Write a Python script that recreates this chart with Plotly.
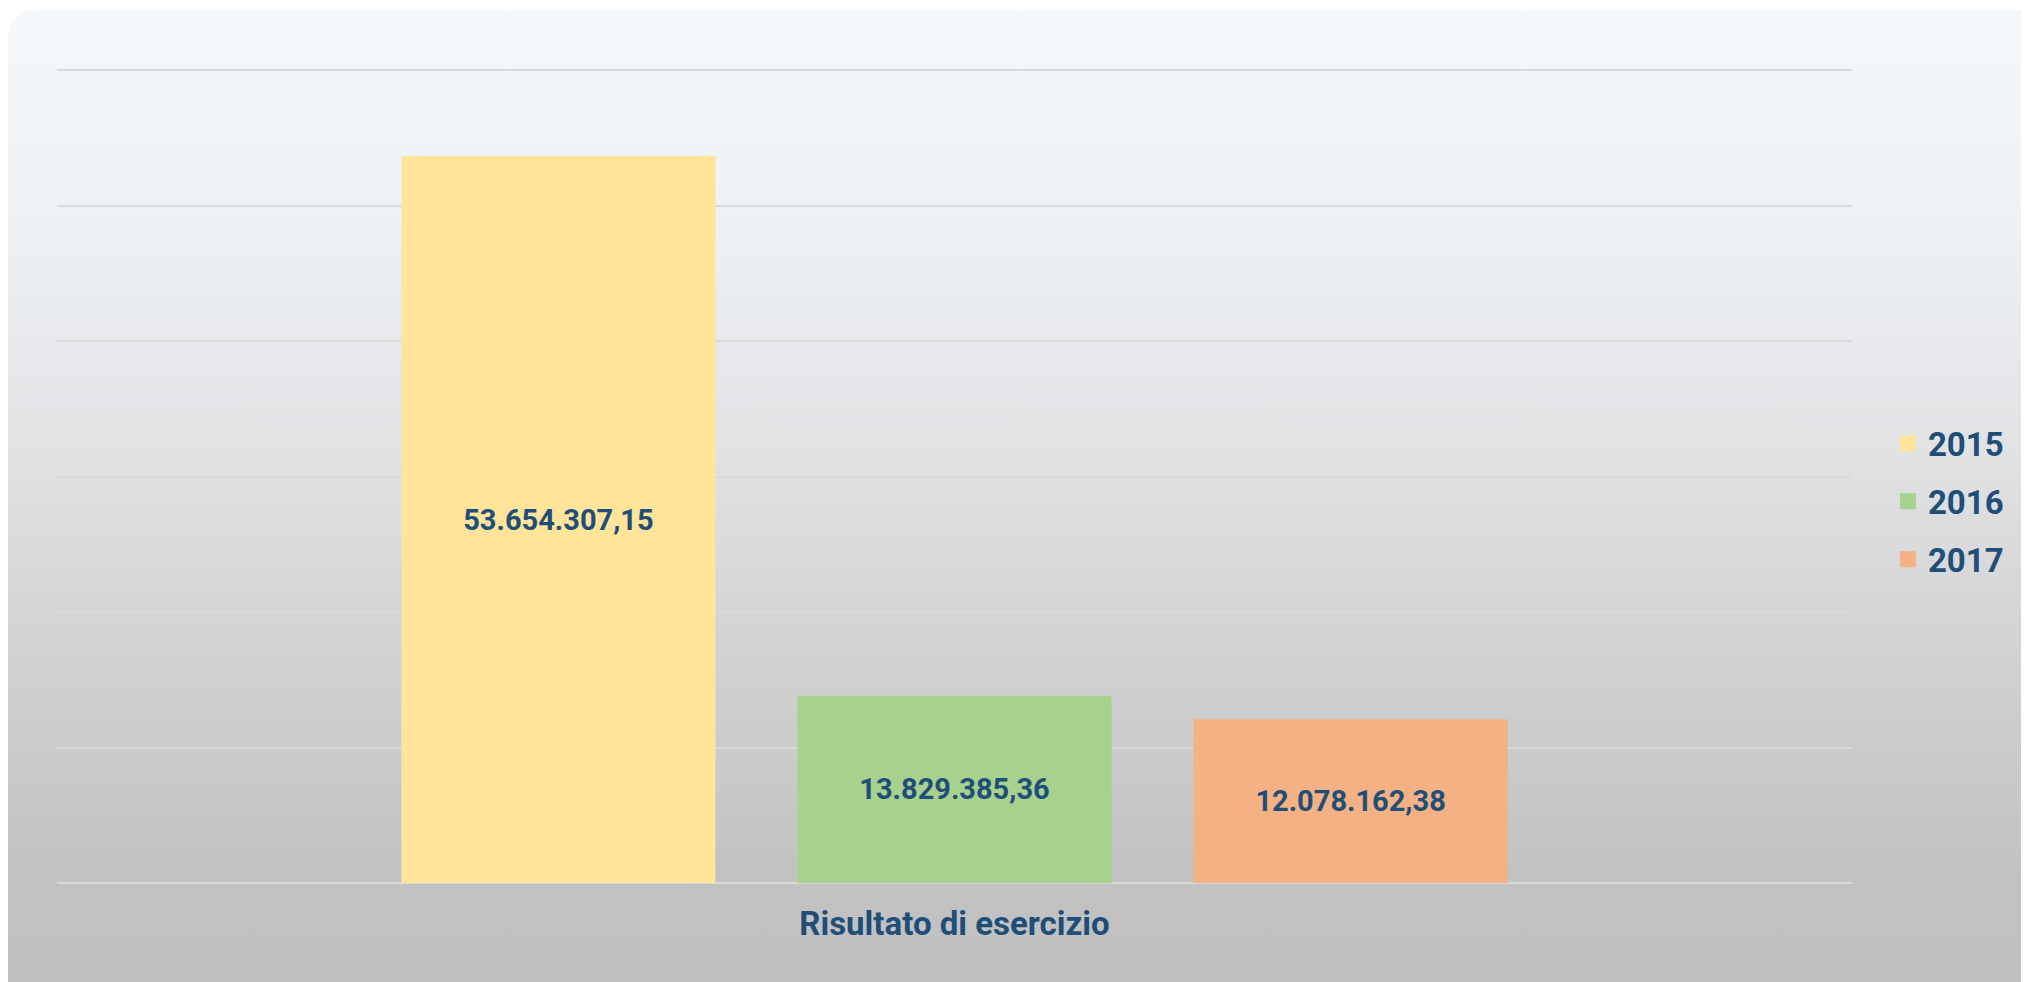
import base64
import plotly.graph_objects as go

# data
category = ["Risultato di esercizio"]
years = ["2015", "2016", "2017"]
values = [53654307.15, 13829385.36, 12078162.38]
colors = ["#FFE499", "#A9D18E", "#F4B183"]

W, H = 2029, 982
L, R, T, B = 49, 185, 58, 107
pw, ph = W - L - R, H - T - B

TXT = "#1F4E79"
FONT = "Roboto, Liberation Sans Narrow, DejaVu Sans Condensed, sans-serif"


def it_fmt(v):
    s = f"{v:,.2f}"
    return s.replace(",", "X").replace(".", ",").replace("X", ".")


# rounded panel with vertical gradient, drawn as svg background image
svg = f"""<svg xmlns='http://www.w3.org/2000/svg' width='{W}' height='{H}' viewBox='0 0 {W} {H}'>
<defs><linearGradient id='g' x1='0' y1='0' x2='0' y2='1'>
<stop offset='0' stop-color='#F5F8FB'/>
<stop offset='0.2' stop-color='#EFF2F5'/>
<stop offset='0.45' stop-color='#E0E1E3'/>
<stop offset='0.62' stop-color='#D3D3D4'/>
<stop offset='0.85' stop-color='#C2C2C2'/>
<stop offset='1' stop-color='#C0C0C0'/>
</linearGradient></defs>
<rect x='0' y='2' width='{W + 30}' height='{H + 30}' rx='26' ry='26' fill='url(#g)'/>
</svg>"""
bg = "data:image/svg+xml;base64," + base64.b64encode(svg.encode()).decode()

fig = go.Figure()
for yr, v, c in zip(years, values, colors):
    fig.add_trace(go.Bar(
        x=category, y=[v], name=yr, marker_color=c, marker_line_width=0,
        text=[it_fmt(v)], textposition="inside", insidetextanchor="middle",
        textfont=dict(family=FONT, size=29, color=TXT, weight="bold"),
        showlegend=False, hoverinfo="skip",
    ))
# legend entries with bigger squares
for yr, c in zip(years, colors):
    fig.add_trace(go.Scatter(
        x=category, y=[None], name=yr, mode="markers", legendgroup=yr,
        marker=dict(symbol="square", size=20, color=c),
        hoverinfo="skip",
    ))

fig.update_layout(
    width=W, height=H,
    margin=dict(l=L, r=R, t=T, b=B),
    paper_bgcolor="white", plot_bgcolor="rgba(0,0,0,0)",
    barmode="group", bargap=0.338, bargroupgap=0.207,
    images=[dict(source=bg, xref="paper", yref="paper",
                 x=-L / pw, y=1 + T / ph, sizex=W / pw, sizey=H / ph,
                 xanchor="left", yanchor="top", sizing="stretch",
                 layer="below")],
    legend=dict(x=1.02, y=0.467, xanchor="left", yanchor="middle",
                font=dict(family=FONT, size=33, color=TXT, weight="bold"),
                itemsizing="trace", tracegroupgap=12,
                bgcolor="rgba(0,0,0,0)"),
    xaxis=dict(showgrid=False, showline=False, ticks="", ticklabelstandoff=18,
               tickfont=dict(family=FONT, size=33, color=TXT, weight="bold")),
    yaxis=dict(range=[0, 60.3e6], dtick=10e6, showticklabels=False,
               gridcolor="#D9D9D9", gridwidth=1.5,
               zeroline=True, zerolinecolor="#D9D9D9", zerolinewidth=1.5),
)

fig.write_html("out.html")
